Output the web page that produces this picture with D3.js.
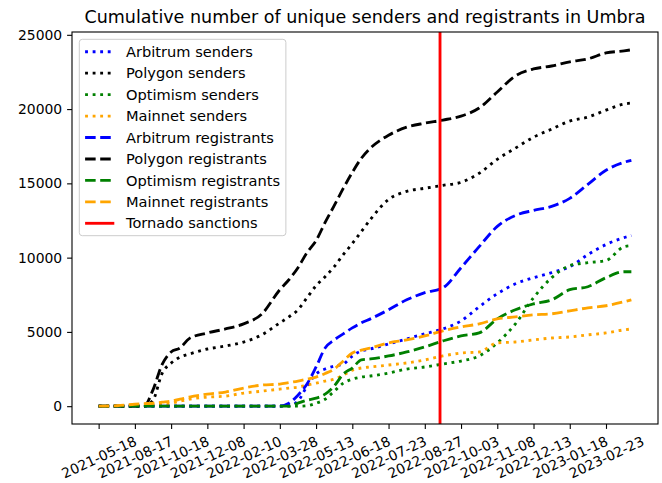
<!DOCTYPE html>
<html>
<head>
<meta charset="utf-8">
<script src="https://cdn.jsdelivr.net/npm/d3@7"></script>
<style>
body { margin: 0; background: #fff; }
text { font-family: "DejaVu Sans", sans-serif; }
</style>
</head>
<body>
<div id="chart"></div>
<script>

// dates shown on the categorical x axis, one per tick
var tickLabels = ["2021-05-18", "2021-08-17", "2021-10-18", "2021-12-08", "2022-02-10",
	"2022-03-28", "2022-05-13", "2022-06-18", "2022-07-23", "2022-08-27", "2022-10-03",
	"2022-11-08", "2022-12-13", "2023-01-18", "2023-02-23"];
// x ticks sit at these axis positions
var tickPos = [0, 1, 2, 3, 4, 5, 6, 7, 8, 9, 10, 11, 12, 13, 14];

// sample positions along the date axis (in tick units)
var xPos = [0, 0.5, 1, 1.25, 1.5, 1.75, 2, 2.25, 2.5, 3, 3.5, 4, 4.5, 5, 5.25, 5.5, 5.75,
	6, 6.25, 6.5, 6.75, 7, 7.25, 7.5, 8, 8.5, 9, 9.5, 10, 10.5, 11, 11.5, 12, 12.5, 13,
	13.5, 14, 14.5, 14.7];

var arbSenders = [0,0,0,0,0,0, 0,0,0, 0,0,0,0, 0,30,340,1350, 2160,2500,2700,2840,
	3380,3720,3850, 4190,4530,4870,5200,5740,6690,7570,8240,8650,8990,9390,10200,10880,11350, 11490];
var polySenders = [0,0,0,0,400,2200, 2900,3310,3510, 3850,4050,4320,4800, 5610,6010,6490,7300,
	8110,8720,9390,10200, 10950,11760,12570, 13920,14460,14670,14870,15070,15680,16620,17370,
	18110,18650,19190,19460,19930,20340, 20410];
var opSenders = [0,0,0,0,0,0, 0,0,0, 0,0,0,0, 0,0,0,30, 200,470,1010,1550,
	1820,1960,2030, 2230,2500,2640,2840,3040,3380,4260,5540,7300,8650,9460,9660,9800,10740, 10810];
var mainSenders = [0,0,60,100,130,160, 200,340,470, 610,680,880,1010, 1150,1220,1280,1420,
	1550,1690,1820,2090, 2430,2570,2640, 2770,2910,3110,3380,3580,3650,4260,4320,4460,4590,
	4660,4800,4930,5140, 5200];
var arbRegistrants = [0,0,0,0,0,0, 0,0,0, 0,0,0,0, 0,200,740,1490, 2640,3920,4460,4870,
	5270,5610,5880, 6490,7160,7640,7970,9320,10740,12100,12840,13180,13450,13990,14930,15880,
	16420, 16550];
var polyRegistrants = [0,0,0,0,1100,2800, 3650,3920,4550, 4930,5200,5540,6200, 7840,8510,9320,10340,
	11150,12370,13500,14660, 15740,16690,17370, 18240,18780,19050,19260,19530,20070,21150,22230,
	22700,22900,23180,23380,23780,23920, 23990];
var opRegistrants = [0,0,0,0,0,0, 0,0,0, 0,0,0,0, 0,0,200,400, 540,810,1350,2160,
	2570,3110,3180, 3380,3650,3990,4390,4730,4930,5880,6490,6890,7160,7840,8040,8650,9050, 9050];
var mainRegistrants = [0,30,130,170,200,270, 340,470,610, 810,950,1220,1420, 1490,1590,1690,1820,
	1960,2200,2500,3040, 3580,3780,3920, 4260,4460,4730,5070,5340,5540,5880,6010,6150,6220,
	6420,6620,6760,7030, 7160];

// Tornado sanctions, 2022-08-08
var sanctionPos = 9.42;

var yTicks = [0, 5000, 10000, 15000, 20000, 25000];

var series = [
	{name: "Arbitrum senders", values: arbSenders, color: "blue", style: "dotted"},
	{name: "Polygon senders", values: polySenders, color: "black", style: "dotted"},
	{name: "Optimism senders", values: opSenders, color: "green", style: "dotted"},
	{name: "Mainnet senders", values: mainSenders, color: "orange", style: "dotted"},
	{name: "Arbitrum registrants", values: arbRegistrants, color: "blue", style: "dashed"},
	{name: "Polygon registrants", values: polyRegistrants, color: "black", style: "dashed"},
	{name: "Optimism registrants", values: opRegistrants, color: "green", style: "dashed"},
	{name: "Mainnet registrants", values: mainRegistrants, color: "orange", style: "dashed"}
];

var lw = 2.85;
var dashes = {dotted: (lw) + "," + (1.65 * lw), dashed: (3.7 * lw) + "," + (1.6 * lw), solid: null};
var fs = 13.9;      // tick labels
var legendFs = 14.6;
var tick = 4.9;

var W = 662, H = 483;
var ax = {left: 72, right: 658, top: 32, bottom: 424};

var svg = d3.select("#chart")
	.append("svg")
	.attr("width", W)
	.attr("height", H);

// 5% margins like matplotlib
var xExt = d3.extent(xPos);
var xPad = (xExt[1] - xExt[0]) * 0.05;
var x = d3.scaleLinear()
	.domain([xExt[0] - xPad, xExt[1] + xPad])
	.range([ax.left, ax.right]);

var allVals = [].concat.apply([], series.map(function(s) { return s.values; }));
var yExt = d3.extent(allVals);
var yPad = (yExt[1] - yExt[0]) * 0.05;
var y = d3.scaleLinear()
	.domain([yExt[0] - yPad, yExt[1] + yPad])
	.range([ax.bottom, ax.top]);

svg.append("defs").append("clipPath")
	.attr("id", "clip")
	.append("rect")
	.attr("x", ax.left).attr("y", ax.top)
	.attr("width", ax.right - ax.left).attr("height", ax.bottom - ax.top);

var plot = svg.append("g").attr("clip-path", "url(#clip)");

var line = d3.line()
	.x(function(d) { return x(d[0]); })
	.y(function(d) { return y(d[1]); })
	.curve(d3.curveMonotoneX);

series.forEach(function(s) {
	plot.append("path")
		.datum(xPos.map(function(p, i) { return [p, s.values[i]]; }))
		.attr("d", line)
		.attr("fill", "none")
		.attr("stroke", s.color)
		.attr("stroke-width", lw)
		.attr("stroke-linejoin", "round")
		.attr("stroke-linecap", "butt")
		.attr("stroke-dasharray", dashes[s.style]);
});

// sanctions line
plot.append("line")
	.attr("x1", x(sanctionPos)).attr("x2", x(sanctionPos))
	.attr("y1", ax.top).attr("y2", ax.bottom)
	.attr("stroke", "red")
	.attr("stroke-width", lw);

// frame
svg.append("rect")
	.attr("x", ax.left).attr("y", ax.top)
	.attr("width", ax.right - ax.left).attr("height", ax.bottom - ax.top)
	.attr("fill", "none")
	.attr("stroke", "black")
	.attr("stroke-width", 1.1);

// y axis
var yAxis = d3.axisLeft(y)
	.tickValues(yTicks)
	.tickFormat(d3.format("d"))
	.tickSize(tick)
	.tickPadding(tick);
var gy = svg.append("g")
	.attr("transform", "translate(" + ax.left + ",0)")
	.call(yAxis);
gy.select(".domain").remove();
gy.selectAll("line").attr("stroke", "black").attr("stroke-width", 1.1);
gy.selectAll("text").attr("font-size", fs).attr("font-family", "DejaVu Sans").attr("fill", "black");

// x axis, labels rotated and centred under the tick
var xAxis = d3.axisBottom(x)
	.tickValues(tickPos)
	.tickFormat(function(d, i) { return tickLabels[i]; })
	.tickSize(tick);
var gx = svg.append("g")
	.attr("transform", "translate(0," + ax.bottom + ")")
	.call(xAxis);
gx.select(".domain").remove();
gx.selectAll("line").attr("stroke", "black").attr("stroke-width", 1.1);

var angle = 25;
var rot = angle * Math.PI / 180;
var textH = fs * 1.164;
gx.selectAll("text")
	.attr("font-size", fs)
	.attr("font-family", "DejaVu Sans")
	.attr("fill", "black")
	.attr("y", 0)
	.attr("dy", "0.35em")
	.attr("text-anchor", "middle")
	.each(function() {
		var w = this.getComputedTextLength();
		var bh = w * Math.sin(rot) + textH * Math.cos(rot);
		var cy = tick + 4 + bh / 2;
		d3.select(this).attr("transform", "translate(0," + cy + ") rotate(" + (-angle) + ")");
	});

// title
svg.append("text")
	.attr("x", (ax.left + ax.right) / 2)
	.attr("y", ax.top - 8.6)
	.attr("text-anchor", "middle")
	.attr("font-size", 17.5)
	.attr("fill", "black")
	.text("Cumulative number of unique senders and registrants in Umbra");

// legend
var legendItems = series.map(function(s) { return {name: s.name, color: s.color, style: s.style}; });
legendItems.push({name: "Tornado sanctions", color: "red", style: "solid"});

var lg = svg.append("g");
var lgLeft = ax.left + 7.3, lgTop = ax.top + 7.3;
var box = lg.append("rect")
	.attr("x", lgLeft).attr("y", lgTop)
	.attr("rx", 3).attr("ry", 3)
	.attr("fill", "white").attr("fill-opacity", 0.8)
	.attr("stroke", "#cccccc").attr("stroke-width", 1);

var maxW = 0;
var hx0 = lgLeft + 5.8, hx1 = hx0 + 29.2, tx = hx1 + 11.7;
legendItems.forEach(function(d, i) {
	var cy = lgTop + 12.4 + i * 21.45;
	lg.append("line")
		.attr("x1", hx0).attr("x2", hx1)
		.attr("y1", cy).attr("y2", cy)
		.attr("stroke", d.color)
		.attr("stroke-width", lw)
		.attr("stroke-dasharray", dashes[d.style]);
	var t = lg.append("text")
		.attr("x", tx).attr("y", cy)
		.attr("dy", "0.35em")
		.attr("font-size", legendFs)
		.attr("fill", "black")
		.text(d.name);
	maxW = Math.max(maxW, t.node().getComputedTextLength());
});
box.attr("width", tx + maxW + 5.8 - lgLeft)
	.attr("height", 12.4 + (legendItems.length - 1) * 21.45 + 12.4);

</script>
</body>
</html>
